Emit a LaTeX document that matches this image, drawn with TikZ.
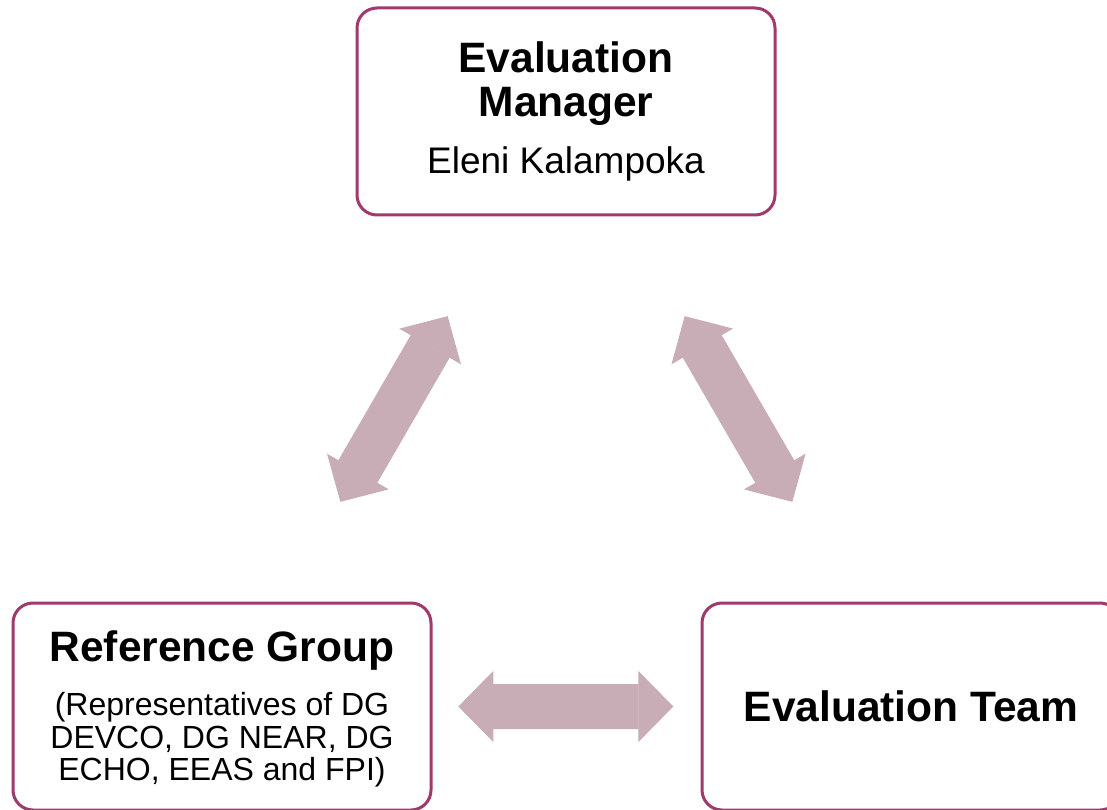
\documentclass[tikz,border=0pt]{standalone}
\usepackage{fontspec}
\setmainfont{Liberation Sans}
\usepackage{tikz}
\usetikzlibrary{arrows.meta, positioning, calc}
\definecolor{rolepurple}{RGB}{158,58,108}
\definecolor{linkpink}{RGB}{201,173,182}
\tikzstyle{role} = [rectangle, draw=rolepurple, line width=3pt, rounded corners=20pt, minimum width=418pt, minimum height=207pt, align=center, font=\fontsize{42.5}{44}\selectfont]
\tikzstyle{link} = [line width=45pt, draw=linkpink, {Triangle[width=71pt,length=35pt,line width=1pt]}-{Triangle[width=71pt,length=35pt,line width=1pt]}]
\newcommand{\smalltext}{\fontsize{32}{33}\selectfont}

\begin{document}
\begin{tikzpicture}[x=1pt, y=-1pt]
    \path[use as bounding box, fill=white] (0,0) rectangle (1107,810);

    \node (mgr) [role] at (566,111.5) {\bfseries Evaluation\\ \bfseries Manager\\[13pt] \fontsize{37}{40}\selectfont Eleni Kalampoka};
    \node (ref) [role] at (222,706.5) {\rule{0pt}{36pt}\bfseries Reference Group\\[10pt] \smalltext (Representatives of DG\\[-11.5pt] \smalltext DEVCO, DG NEAR, DG\\[-11.5pt] \smalltext ECHO, EEAS and FPI)};
    \node (team) [role] at (911,706.5) {\bfseries Evaluation Team};

    \draw[link] ($(ref)!0.344!(mgr)$) -- ($(ref)!0.656!(mgr)$);
    \draw[link] ($(team)!0.344!(mgr)$) -- ($(team)!0.656!(mgr)$);
    \draw[link] ($(ref)!0.343!(team)$) -- ($(ref)!0.655!(team)$);
\end{tikzpicture}
\end{document}
